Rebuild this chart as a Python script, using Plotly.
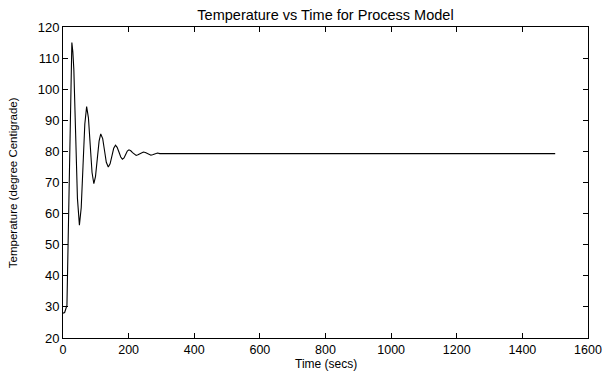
import plotly.graph_objects as go

# Data (time in secs, temperature in degree Centigrade)
time_s = [0, 5, 12, 16, 20, 24, 27, 30, 33, 38.5, 44, 50,
          55.5, 61, 66.5, 72, 77.5, 83, 88.5, 94,
          99, 104.5, 110, 115, 121, 126.5, 132, 138,
          143.5, 149, 154.5, 160, 165, 170.5, 176, 181,
          186, 191, 196, 201, 206.5, 212, 217.5, 223,
          228.5, 234, 239.5, 245, 251, 256.5, 262, 268,
          273, 278, 283, 288, 295, 1500]
temperature = [28, 28.2, 30.5, 55, 80, 108, 115, 112, 106.4, 85.7, 64.9, 56.3,
               61.9, 75.4, 88.8, 94.4, 90.8, 82.0, 73.2, 69.6,
               71.9, 77.6, 83.3, 85.6, 84.1, 80.3, 76.5, 75.0,
               76.0, 78.5, 81.0, 82.0, 81.3, 79.8, 78.2, 77.5,
               77.9, 79.0, 80.1, 80.5, 80.2, 79.6, 79.0, 78.7,
               78.9, 79.25, 79.6, 79.8, 79.65, 79.3, 78.95, 78.8,
               78.9, 79.15, 79.4, 79.5, 79.3, 79.3]

x_ticks = [0, 200, 400, 600, 800, 1000, 1200, 1400, 1600]
y_ticks = [20, 30, 40, 50, 60, 70, 80, 90, 100, 110, 120]

title_text = "Temperature vs Time for Process Model"
x_label = "Time (secs)"
y_label = "Temperature (degree Centigrade)"

FONT = "Liberation Sans, Arial, Helvetica, sans-serif"

fig = go.Figure()
fig.add_trace(go.Scatter(x=time_s, y=temperature, mode="lines",
                         line=dict(color="black", width=1.1),
                         showlegend=False, hoverinfo="skip"))

W, H = 614, 371
L, R, T, B = 63, 19, 27, 33
plot_w = W - L - R
plot_h = H - T - B

axis_common = dict(showgrid=False, zeroline=False, showline=True,
                   linecolor="black", linewidth=1, mirror="ticks",
                   ticks="inside", ticklen=5, tickwidth=1, tickcolor="black")

fig.update_layout(
    width=W, height=H,
    margin=dict(l=L, r=R, t=T, b=B, pad=0),
    paper_bgcolor="white", plot_bgcolor="white",
    font=dict(family=FONT, color="black"),
    title=dict(text=title_text, x=0.5, xref="paper", xanchor="center",
               y=1 - 15 / H, yref="container", yanchor="middle",
               font=dict(family=FONT, size=14.5, color="black")),
    xaxis=dict(range=[0, 1600], tickmode="array", tickvals=x_ticks,
               ticktext=[str(v) for v in x_ticks],
               tickfont=dict(family=FONT, size=12.5, color="black"),
               **axis_common),
    yaxis=dict(range=[20, 120], tickmode="array", tickvals=y_ticks,
               ticktext=[str(v) for v in y_ticks],
               tickfont=dict(family=FONT, size=13, color="black"),
               **axis_common),
    annotations=[
        dict(text=x_label, xref="paper", yref="paper",
             x=0.5, y=-(364 - (T + plot_h)) / plot_h,
             xanchor="center", yanchor="middle", showarrow=False,
             font=dict(family=FONT, size=12, color="black")),
        dict(text=y_label, xref="paper", yref="paper",
             x=(12 - L) / plot_w, y=0.5, textangle=-90,
             xanchor="center", yanchor="middle", showarrow=False,
             font=dict(family=FONT, size=11.5, color="black")),
    ],
)

fig.write_html("out.html")
